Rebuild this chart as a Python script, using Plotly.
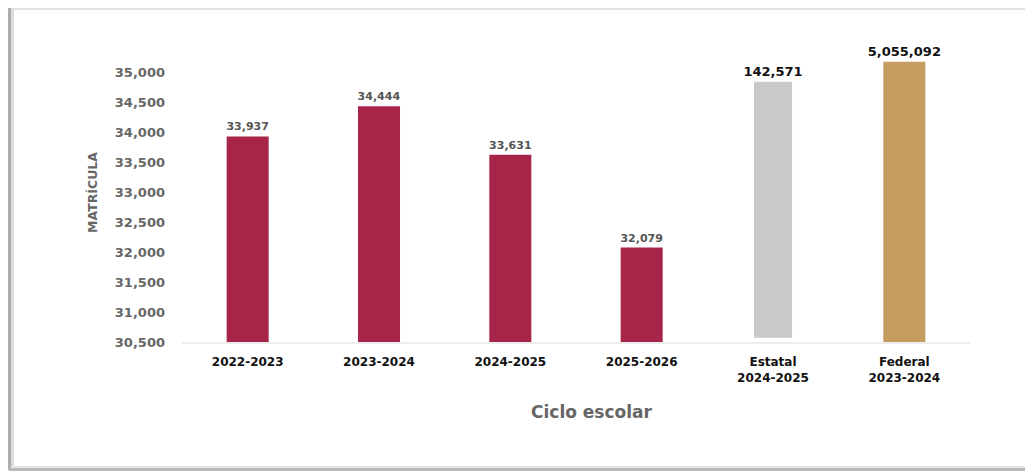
import plotly.graph_objects as go

categories = ["2022-2023", "2023-2024", "2024-2025", "2025-2026",
              "Estatal<br>2024-2025", "Federal<br>2023-2024"]
matricula = [33937, 34444, 33631, 32079]
# comparison bars: displayed totals and the height they are drawn at on the chart's scale
comparison_totals = [142571, 5055092]
comparison_heights = [34850, 35185]
comparison_bases = [30570, 30500]
tick_values = [30500, 31000, 31500, 32000, 32500, 33000, 33500, 34000, 34500, 35000]

WINE = "#A8254A"
GREY_BAR = "#C9C9C9"
GOLD = "#C69C61"
TXT_GREY = "#666666"

# page offset of the figure inside the html body (default 8px body margin)
OFF = 8
FIG_W, FIG_H = 1033 - OFF, 472 - OFF
L, T = 182 - OFF, 43 - OFF
PW, PH = 788, 299
R, B = FIG_W - L - PW, FIG_H - T - PH


def px(x):  # page pixel -> paper x
    return (x - OFF - L) / PW


def py(y):  # page pixel -> paper y
    return (T + PH - (y - OFF)) / PH


fig = go.Figure()
fig.add_trace(go.Bar(
    x=categories[:4], y=matricula,
    marker=dict(color=WINE, line=dict(width=0)),
    width=0.32,
    text=[f"{v:,}" for v in matricula], textposition="outside",
    textfont=dict(family="DejaVu Sans", size=11, color="#555555", weight="bold"),
    constraintext="none", cliponaxis=False,
))
fig.add_trace(go.Bar(
    x=categories[4:5], y=[comparison_heights[0] - comparison_bases[0]], base=comparison_bases[0],
    marker=dict(color=GREY_BAR, line=dict(width=0)),
    width=0.29,
    text=[f"{comparison_totals[0]:,}"], textposition="outside",
    textfont=dict(family="DejaVu Sans", size=13, color="#111111", weight="bold"),
    constraintext="none", cliponaxis=False,
))
fig.add_trace(go.Bar(
    x=categories[5:6], y=[comparison_heights[1] - comparison_bases[1]], base=comparison_bases[1],
    marker=dict(color=GOLD, line=dict(width=0)),
    width=0.32,
    text=[f"{comparison_totals[1]:,}"], textposition="outside",
    textfont=dict(family="DejaVu Sans", size=13, color="#111111", weight="bold"),
    constraintext="none", cliponaxis=False,
))

frame = [
    dict(type="line", xref="paper", yref="paper", x0=px(7), x1=px(1031), y0=py(8.5), y1=py(8.5),
         line=dict(color="#E2E2E2", width=3)),
    dict(type="line", xref="paper", yref="paper", x0=px(1031), x1=px(1031), y0=py(8), y1=py(468),
         line=dict(color="#EEEEEE", width=2)),
    dict(type="line", xref="paper", yref="paper", x0=px(9.5), x1=px(9.5), y0=py(8), y1=py(470),
         line=dict(color="#ADADAD", width=3)),
    dict(type="line", xref="paper", yref="paper", x0=px(12.5), x1=px(12.5), y0=py(10), y1=py(467),
         line=dict(color="#DCDCDC", width=3)),
    dict(type="line", xref="paper", yref="paper", x0=px(9), x1=px(1031), y0=py(469.5), y1=py(469.5),
         line=dict(color="#B8B8B8", width=3)),
    dict(type="line", xref="paper", yref="paper", x0=px(12), x1=px(1031), y0=py(467), y1=py(467),
         line=dict(color="#E4E4E4", width=2)),
]

fig.update_layout(
    width=FIG_W, height=FIG_H,
    margin=dict(l=L, r=R, t=T, b=B, autoexpand=False),
    paper_bgcolor="white", plot_bgcolor="white",
    showlegend=False, barmode="overlay",
    xaxis=dict(
        type="category", categoryorder="array", categoryarray=categories,
        showline=True, linecolor="#EDEDED", linewidth=2,
        showgrid=False, ticks="", ticklabelstandoff=8,
        tickfont=dict(family="DejaVu Sans", size=12, color="#111111", weight="bold"),
    ),
    yaxis=dict(
        range=[30500, 35500], tickvals=tick_values,
        tickformat=",d", showgrid=False, zeroline=False, showline=False,
        ticklabelstandoff=16,
        tickfont=dict(family="DejaVu Sans", size=13, color=TXT_GREY, weight="bold"),
        title=dict(text="MATRÍCULA", standoff=14,
                   font=dict(family="DejaVu Sans", size=12.5, color=TXT_GREY, weight="bold")),
    ),
    annotations=[
        dict(text="Ciclo escolar", xref="paper", yref="paper", x=px(592), y=py(412),
             xanchor="center", yanchor="middle", showarrow=False,
             font=dict(family="DejaVu Sans", size=17, color=TXT_GREY, weight="bold")),
    ],
    shapes=frame,
)

fig.write_html("out.html")
